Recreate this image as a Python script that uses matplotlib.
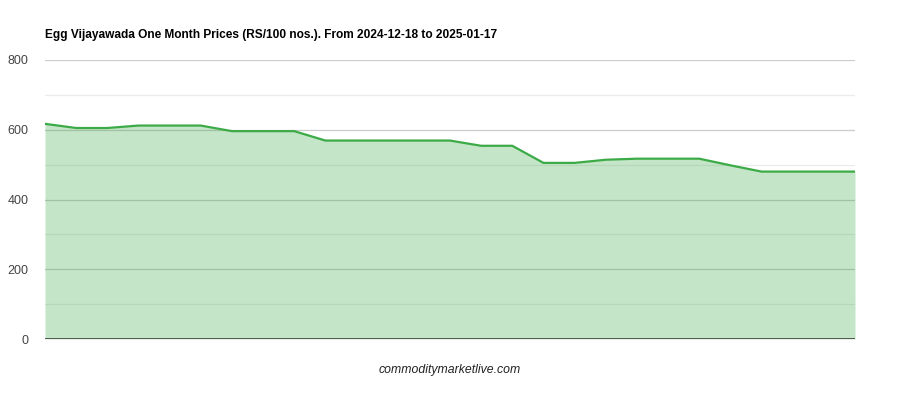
import matplotlib
matplotlib.use("Agg")
import matplotlib.pyplot as plt
from matplotlib.ticker import MultipleLocator

plt.rcParams['font.family'] = ['Liberation Sans', 'DejaVu Sans']

# daily prices (RS/100 nos.)
days = list(range(27))
prices = [617, 605, 605, 612, 612, 612, 596, 596, 596, 569,
          569, 569, 569, 569, 554, 554, 505, 505, 514, 517,
          517, 517, 498, 480, 480, 480, 480]
yticks = [0, 200, 400, 600, 800]

title = "Egg Vijayawada One Month Prices (RS/100 nos.). From 2024-12-18 to 2025-01-17"

fig = plt.figure(figsize=(9, 4), dpi=100)
ax = fig.add_axes([0.05, 0.1525, 0.9, 0.6975])

# translucent area so the gridlines show through, like the original
ax.fill_between(days, prices, 0, color='#3cab47', alpha=0.3, lw=0, zorder=2)
ax.plot(days, prices, color='#3cab47', lw=1.6, zorder=3, solid_joinstyle='round')

ax.set_xlim(days[0], days[-1])
ax.set_ylim(0, 800)
ax.set_yticks(yticks)
ax.yaxis.set_minor_locator(MultipleLocator(100))
ax.grid(which='major', axis='y', color='#cccccc', lw=0.9, zorder=1)
ax.grid(which='minor', axis='y', color='#ebebeb', lw=0.9, zorder=1)
ax.set_axisbelow(True)
ax.axhline(0, color='#333333', lw=1.1, zorder=4)

for s in ax.spines.values():
    s.set_visible(False)
ax.set_xticks([])
ax.tick_params(axis='y', which='both', length=0, pad=12, labelsize=9, labelcolor='#444444')

fig.text(0.05, 0.9125, title, fontsize=8.6, fontweight='bold', color='#000000',
         ha='left', va='center')
fig.text(0.5, 0.075, "commoditymarketlive.com", fontsize=8.8, style='italic',
         color='#222222', ha='center', va='center')

fig.savefig("out.png", dpi=100)
